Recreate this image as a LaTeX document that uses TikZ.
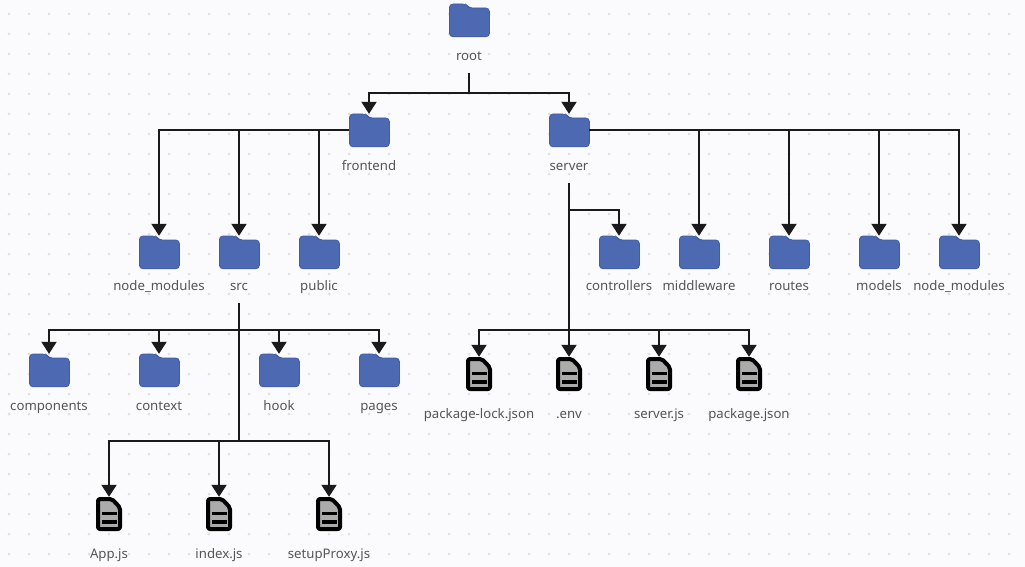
\documentclass[tikz,border=0pt]{standalone}
\usepackage{fontspec}
\setmainfont{Noto Sans}
\usetikzlibrary{arrows.meta}
\definecolor{bgc}{HTML}{FBFBFD}
\definecolor{dotc}{HTML}{E0E0E4}
\definecolor{folderc}{HTML}{4D69B2}
\definecolor{folderedge}{HTML}{415CA6}
\definecolor{linec}{HTML}{1A1A1A}
\definecolor{txtc}{HTML}{555555}
\definecolor{filec}{HTML}{ABABAB}
\tikzset{
  lbl/.style={inner sep=0pt,minimum height=32pt,text height=9.5pt,text depth=3pt,text=txtc,font=\fontsize{13.2}{15}\selectfont},
  iconbox/.style={inner sep=0pt,minimum width=#1,draw=none},
  conn/.style={draw=linec,line width=2pt},
  arr/.style={conn,-{Triangle[width=15pt,length=12pt]}},
  folderpath/.style={fill=folderc,draw=folderedge,line width=0.7pt,rounded corners=3.5pt},
  filepath/.style={fill=filec,draw=black,line width=4pt,rounded corners=2pt,line join=round},
  stripe/.style={draw=black,line width=3.2pt}
}
% name, centre x, top y, label centre y, text
\newcommand{\folderitem}[5]{%
  \node[iconbox=40pt,minimum height=32pt] (#1) at (#2,#3+16) {};
  \begin{scope}[shift={(#2-20,#3)}]
    \path[folderpath] (0.4,0) -- (17,0) -- (20,4) -- (40.4,4) -- (40.4,32.8) -- (0.4,32.8) -- cycle;
  \end{scope}
  \node[lbl] (#1l) at (#2,#4) {#5};
}
\newcommand{\fileitem}[5]{%
  \node[iconbox=26pt,minimum height=34pt] (#1) at (#2,#3+17) {};
  \begin{scope}[shift={(#2-13,#3)}]
    \path[filepath] (2,2) -- (16,2) -- (24,10.5) -- (24,32) -- (2,32) -- cycle;
    \draw[stripe] (6,16.5) -- (20.5,16.5);
    \draw[stripe] (6,25) -- (20.5,25);
  \end{scope}
  \node[lbl] (#1l) at (#2,#4) {#5};
}
\begin{document}
\begin{tikzpicture}[x=1pt,y=-1pt]
\useasboundingbox (0,0) rectangle (1025,567);
\fill[bgc] (0,0) rectangle (1025,567);
\foreach \i in {0,...,50} \foreach \j in {0,...,27}
  \fill[dotc] ({9+20*\i},{14+20*\j}) circle (1.5pt);

\folderitem{root}{469}{4}{57.2}{root}
\folderitem{frontend}{369}{114}{167.2}{frontend}
\folderitem{server}{569}{114}{167.2}{server}
\folderitem{fnm}{159}{236}{287.2}{node\_modules}
\folderitem{src}{239}{236}{287.2}{src}
\folderitem{public}{319}{236}{287.2}{public}
\folderitem{controllers}{619}{236}{287.2}{controllers}
\folderitem{middleware}{699}{236}{287.2}{middleware}
\folderitem{routes}{789}{236}{287.2}{routes}
\folderitem{models}{879}{236}{287.2}{models}
\folderitem{snm}{959}{236}{287.2}{node\_modules}
\folderitem{components}{49}{354}{407.2}{components}
\folderitem{context}{159}{354}{407.2}{context}
\folderitem{hook}{279}{354}{407.2}{hook}
\folderitem{pages}{379}{354}{407.2}{pages}
\fileitem{lock}{479}{357}{415.2}{package-lock.json}
\fileitem{env}{569}{357}{415.2}{.env}
\fileitem{serverjs}{659}{357}{415.2}{server.js}
\fileitem{packagejson}{749}{357}{415.2}{package.json}
\fileitem{app}{109}{497}{555.2}{App.js}
\fileitem{index}{219}{497}{555.2}{index.js}
\fileitem{proxy}{329}{497}{555.2}{setupProxy.js}

\coordinate (rootbus) at (469,93);
\coordinate (srvbusA) at (569,210);
\coordinate (srvbusB) at (569,330);
\coordinate (srcbusA) at (239,330);
\coordinate (srcbusB) at (239,441);

\draw[conn] (rootl.south) -- (rootbus);
\draw[arr] (rootbus) -| (frontend.north);
\draw[arr] (rootbus) -| (server.north);

\draw[arr] (frontend.west) -| (fnm.north);
\draw[arr] (frontend.west) -| (src.north);
\draw[arr] (frontend.west) -| (public.north);

\draw[arr] (server.east) -| (middleware.north);
\draw[arr] (server.east) -| (routes.north);
\draw[arr] (server.east) -| (models.north);
\draw[arr] (server.east) -| (snm.north);

\draw[conn] (serverl.south) -- (srvbusB);
\draw[arr] (srvbusA) -| (controllers.north);
\draw[arr] (srvbusB) -| (lock.north);
\draw[arr] (srvbusB) -- (env.north);
\draw[arr] (srvbusB) -| (serverjs.north);
\draw[arr] (srvbusB) -| (packagejson.north);

\draw[conn] (srcl.south) -- (srcbusB);
\draw[arr] (srcbusA) -| (components.north);
\draw[arr] (srcbusA) -| (context.north);
\draw[arr] (srcbusA) -| (hook.north);
\draw[arr] (srcbusA) -| (pages.north);
\draw[arr] (srcbusB) -| (app.north);
\draw[arr] (srcbusB) -| (index.north);
\draw[arr] (srcbusB) -| (proxy.north);
\end{tikzpicture}
\end{document}
